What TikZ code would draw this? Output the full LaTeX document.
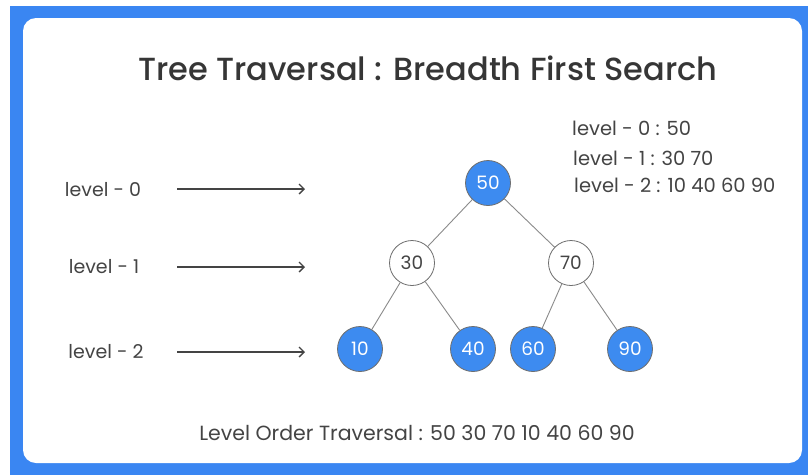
\documentclass[tikz,border=0pt]{standalone}
\usepackage{fontspec}
\setmainfont{Poppins}
\newfontfamily\titlefont{Poppins Medium}
\usetikzlibrary{arrows.meta}
\definecolor{frameblue}{HTML}{3A86F2}
\definecolor{nodeblue}{HTML}{3D8BF0}
\definecolor{txt}{HTML}{444444}
\definecolor{edge}{HTML}{8A8A8A}
\begin{document}
\begin{tikzpicture}[x=1pt,y=-1pt,
  tnode/.style={circle,draw=edge!80!black,line width=0.8pt,minimum size=45pt,inner sep=0pt,font=\fontsize{18.5}{18.5}\selectfont},
  bnode/.style={tnode,fill=nodeblue,text=white},
  wnode/.style={tnode,fill=white,text=txt},
  lbl/.style={text=txt,font=\fontsize{19}{19}\selectfont,inner sep=0pt},
  tedge/.style={draw=edge,line width=0.9pt},
  larrow/.style={draw=txt,line width=1.3pt,-{Straight Barb[length=5pt,width=10pt]}}
]
\useasboundingbox (0,0) rectangle (808,475);
\fill[white] (0,0) rectangle (808,475);
\fill[frameblue] (10,6) rectangle (808,475);
\fill[white,rounded corners=13pt] (23,18) rectangle (802,463);
\node[text=txt!80!black,font=\titlefont\fontsize{32}{32}\selectfont] (title) at (428,68) {Tree Traversal : Breadth First Search};

\node[bnode] (n50) at (488,183) {50};
\node[wnode] (n30) at (412,263) {30};
\node[wnode] (n70) at (571,263) {70};
\node[bnode] (n10) at (360,349) {10};
\node[bnode] (n40) at (473,349) {40};
\node[bnode] (n60) at (533,349) {60};
\node[bnode] (n90) at (630,349) {90};

\draw[tedge] (n50) -- (n30);
\draw[tedge] (n50) -- (n70);
\draw[tedge] (n30) -- (n10);
\draw[tedge] (n30) -- (n40);
\draw[tedge] (n70) -- (n60);
\draw[tedge] (n70) -- (n90);

\node[lbl] (l0) at (103,190) {level - 0};
\node[lbl] (l1) at (104,267) {level - 1};
\node[lbl] (l2) at (106,352) {level - 2};
\coordinate (a0s) at (177,189); \coordinate (a0e) at (305,189);
\coordinate (a1s) at (177,267); \coordinate (a1e) at (305,267);
\coordinate (a2s) at (177,352); \coordinate (a2e) at (305,352);
\draw[larrow] (a0s) -- (a0e);
\draw[larrow] (a1s) -- (a1e);
\draw[larrow] (a2s) -- (a2e);

\node[lbl,anchor=west,font=\fontsize{19.5}{19.5}\selectfont] (r0) at (572,128) {level - 0 : 50};
\node[lbl,anchor=west,font=\fontsize{19.5}{19.5}\selectfont] (r1) at (573,158) {level - 1 : 30 70};
\node[lbl,anchor=west,font=\fontsize{19.5}{19.5}\selectfont] (r2) at (574,185) {level - 2 : 10 40 60 90};

\node[lbl,font=\fontsize{20.5}{20.5}\selectfont] (bottom) at (417,433) {Level Order Traversal : 50 30 70 10 40 60 90};
\end{tikzpicture}
\end{document}
